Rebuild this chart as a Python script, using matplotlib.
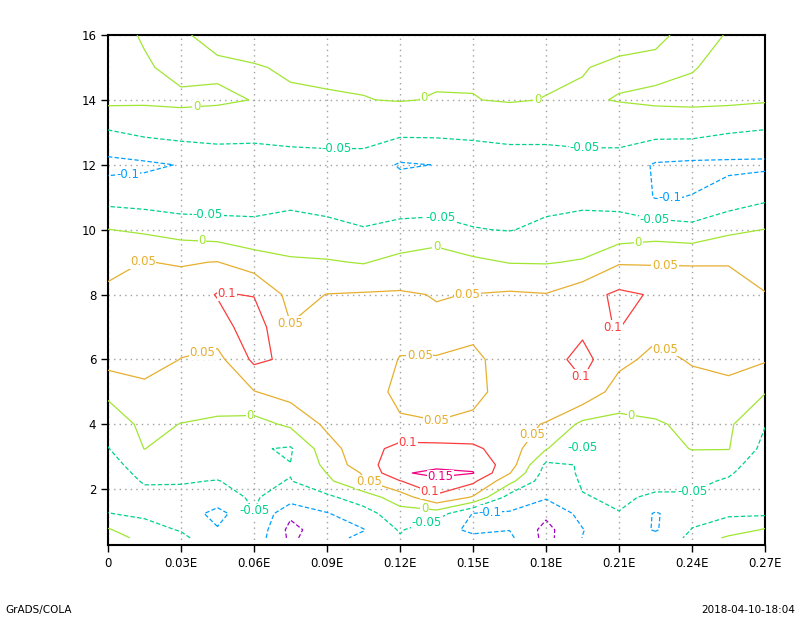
import numpy as np
import matplotlib
matplotlib.use("Agg")
import matplotlib.pyplot as plt

# Grid of the field
x_coords = [0.0, 0.015, 0.03, 0.045, 0.06, 0.075, 0.09, 0.105, 0.12, 0.135,
            0.15, 0.165, 0.18, 0.195, 0.21, 0.225, 0.24, 0.255, 0.27]
y_levels = [16, 15, 14, 13, 12, 11, 10, 9, 8, 7, 6, 5, 4,
            3.25, 2.75, 2.5, 2.25, 1.75, 1.25, 0.75, 0.5]

# one list per x column, values from top (y=16) to bottom (y=0.5)
col_000 = [0.02, 0.015, 0.012, -0.055, -0.115, -0.07, 0.001, 0.035, 0.06, 0.07, 0.07, 0.01, -0.028, -0.052, -0.065, -0.068, -0.07, -0.065, -0.049, 0.005, 0.015]
col_015 = [-0.005, 0.006, 0.008, -0.04, -0.108, -0.075, -0.008, 0.051, 0.07, 0.075, 0.07, 0.037, 0.011, 0.001, -0.03, -0.04, -0.047, -0.06, -0.057, -0.035, -0.01]
col_030 = [-0.004, -0.015, 0.01, -0.032, -0.098, -0.08, -0.022, 0.047, 0.068, 0.07, 0.049, 0.025, -0.001, -0.03, -0.04, -0.044, -0.048, -0.058, -0.065, -0.053, -0.04]
col_045 = [0.01, -0.006, 0.006, -0.03, -0.085, -0.075, -0.03, 0.051, 0.103, 0.08, 0.035, 0.015, -0.005, -0.024, -0.037, -0.044, -0.051, -0.065, -0.12, -0.095, -0.08]
col_060 = [0.02, -0.003, -0.001, -0.035, -0.08, -0.065, -0.04, 0.025, 0.098, 0.125, 0.11, 0.048, -0.018, -0.045, -0.045, -0.043, -0.04, -0.045, -0.051, -0.06, -0.07]
col_075 = [0.02, 0.005, -0.006, -0.03, -0.075, -0.06, -0.035, 0.007, 0.035, 0.052, 0.09, 0.07, 0.009, -0.055, -0.049, -0.048, -0.052, -0.075, -0.14, -0.165, -0.16]
col_090 = [0.02, 0.008, -0.004, -0.03, -0.07, -0.065, -0.04, 0.004, 0.051, 0.07, 0.075, 0.075, 0.06, 0.03, 0.012, 0.001, -0.01, -0.06, -0.103, -0.12, -0.115]
col_105 = [0.02, 0.006, -0.001, -0.03, -0.07, -0.07, -0.048, -0.003, 0.054, 0.075, 0.08, 0.08, 0.07, 0.08, 0.08, 0.055, 0.045, -0.025, -0.07, -0.102, -0.09]
col_120 = [0.02, 0.007, 0.002, -0.04, -0.105, -0.07, -0.04, 0.015, 0.055, 0.065, 0.048, 0.035, 0.058, 0.115, 0.13, 0.145, 0.098, 0.025, -0.02, -0.045, -0.055]
col_135 = [0.02, 0.006, -0.002, -0.04, -0.099, -0.065, -0.04, 0.035, 0.048, 0.057, 0.049, 0.035, 0.052, 0.115, 0.14, 0.16, 0.14, 0.09, -0.025, -0.09, -0.085]
col_150 = [0.02, 0.004, -0.001, -0.04, -0.08, -0.07, -0.048, 0.01, 0.051, 0.062, 0.04, 0.04, 0.058, 0.11, 0.14, 0.152, 0.11, 0.045, -0.102, -0.105, -0.095]
col_165 = [0.02, 0.008, 0.003, -0.035, -0.075, -0.065, -0.052, -0.002, 0.056, 0.07, 0.07, 0.065, 0.06, 0.075, 0.075, 0.053, 0.015, -0.07, -0.105, -0.101, -0.09]
col_180 = [0.02, 0.006, -0.001, -0.035, -0.075, -0.065, -0.04, -0.003, 0.052, 0.065, 0.08, 0.075, 0.048, 0.003, -0.06, -0.07, -0.08, -0.095, -0.14, -0.165, -0.165]
col_195 = [0.02, 0.002, -0.005, -0.03, -0.072, -0.06, -0.035, 0.004, 0.08, 0.09, 0.115, 0.09, -0.012, -0.052, -0.047, -0.045, -0.046, -0.052, -0.085, -0.102, -0.099]
col_210 = [0.015, -0.008, 0.002, -0.03, -0.072, -0.062, -0.035, 0.045, 0.11, 0.102, 0.065, 0.025, -0.013, -0.03, -0.035, -0.037, -0.04, -0.045, -0.051, -0.065, -0.07]
col_225 = [0.008, -0.01, 0.008, -0.035, -0.105, -0.103, -0.025, 0.045, 0.095, 0.065, 0.035, 0.02, -0.004, -0.02, -0.03, -0.035, -0.04, -0.055, -0.105, -0.105, -0.08]
col_240 = [-0.012, -0.002, 0.01, -0.035, -0.11, -0.099, -0.035, 0.048, 0.065, 0.075, 0.055, 0.03, 0.008, 0.002, -0.025, -0.03, -0.04, -0.055, -0.065, -0.048, -0.04]
col_255 = [0.002, 0.01, 0.01, -0.048, -0.11, -0.08, -0.01, 0.048, 0.065, 0.07, 0.06, 0.04, 0.008, 0.002, -0.035, -0.045, -0.055, -0.065, -0.055, -0.03, 0.01]
col_270 = [0.02, 0.02, 0.005, -0.055, -0.11, -0.06, 0.001, 0.03, 0.052, 0.065, 0.055, 0.003, -0.048, -0.065, -0.075, -0.078, -0.08, -0.075, -0.058, 0.005, 0.015]

contour_levels = [-0.15, -0.1, -0.05, 0.0, 0.05, 0.1, 0.15]
level_colors = ['#a000c8', '#00a0ff', '#00d28c', '#a0e632', '#e6af2d', '#fa3c3c', '#f00082']

x_ticks = [0, 0.03, 0.06, 0.09, 0.12, 0.15, 0.18, 0.21, 0.24, 0.27]
x_tick_labels = ['0', '0.03E', '0.06E', '0.09E', '0.12E', '0.15E', '0.18E', '0.21E', '0.24E', '0.27E']
y_ticks = [2, 4, 6, 8, 10, 12, 14, 16]
y_tick_labels = ['2', '4', '6', '8', '10', '12', '14', '16']

label_positions = [
    (0.0366, 13.6), (0.130, 14.06), (0.1775, 13.88),
    (0.094, 12.49), (0.196, 12.43),
    (0.0082, 11.6), (0.231, 10.95),
    (0.041, 10.43), (0.1364, 10.34), (0.2248, 10.34),
    (0.0386, 9.72), (0.135, 9.57), (0.2178, 9.72),
    (0.0144, 8.98), (0.148, 7.78), (0.2289, 8.95),
    (0.0489, 8.12), (0.0768, 6.92), (0.2063, 6.86), (0.2338, 6.89),
    (0.0366, 6.8), (0.1282, 6.03), (0.1932, 5.42),
    (0.0584, 4.34), (0.1352, 4.03), (0.2153, 4.4),
    (0.1233, 3.5), (0.1734, 3.72), (0.1932, 3.45),
    (0.1364, 2.45), (0.1077, 2.34), (0.1323, 1.95),
    (0.2404, 1.91), (0.130, 1.3), (0.0592, 1.2), (0.1311, 0.95), (0.157, 1.29),
]

columns = [col_000, col_015, col_030, col_045, col_060, col_075, col_090, col_105,
           col_120, col_135, col_150, col_165, col_180, col_195, col_210, col_225,
           col_240, col_255, col_270]
Z = np.column_stack(columns)[::-1, :]
Y = np.array(y_levels)[::-1]
X = np.array(x_coords)

fig = plt.figure(figsize=(8.0, 6.18), dpi=100)
ax = fig.add_axes([0.135, 0.1181, 0.8213, 0.8252])

styles = [(0, (3.5, 1.8)) if lev < 0 else 'solid' for lev in contour_levels]
cs = ax.contour(X, Y, Z, levels=contour_levels, colors=level_colors,
                linewidths=0.9, linestyles=styles, zorder=3)

def fmt(v):
    return f"{round(v, 2):g}"

texts = ax.clabel(cs, manual=label_positions, inline=False, fmt=fmt, fontsize=8.5)
for t in texts:
    t.set_rotation(0)
    t.set_bbox(dict(facecolor='white', edgecolor='none', pad=0.4))
    t.set_zorder(5)

ax.set_xlim(0, 0.27)
ax.set_ylim(0.28, 16)
ax.set_xticks(x_ticks)
ax.set_xticklabels(x_tick_labels)
ax.set_yticks(y_ticks)
ax.set_yticklabels(y_tick_labels)
ax.tick_params(direction='out', length=5, width=1, labelsize=8.5, colors='black')
ax.grid(True, color='#a0a0a0', linestyle=(0, (1, 3)), linewidth=1.0, zorder=1)
ax.set_axisbelow(True)
for sp in ax.spines.values():
    sp.set_linewidth(1.5)
    sp.set_color('black')

fig.text(5 / 800, 1 - 610 / 618, 'GrADS/COLA', fontsize=7.5, ha='left', va='center')
fig.text(795 / 800, 1 - 610 / 618, '2018-04-10-18:04', fontsize=7.5, ha='right', va='center')

fig.savefig('out.png', dpi=100)
